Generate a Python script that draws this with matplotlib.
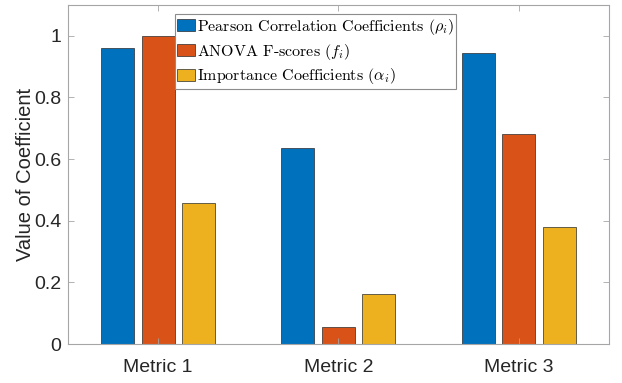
import numpy as np
import matplotlib.pyplot as plt

metrics = ['Metric 1', 'Metric 2', 'Metric 3']
pearson = [0.961, 0.636, 0.945]
anova = [1.0, 0.055, 0.682]
importance = [0.458, 0.162, 0.380]

labels = [r'Pearson Correlation Coefficients ($\rho_i$)',
          r'ANOVA F-scores ($f_i$)',
          r'Importance Coefficients ($\alpha_i$)']
colors = ['#0072BD', '#D95319', '#EDB120']

plt.rcParams['mathtext.fontset'] = 'cm'
plt.rcParams['axes.unicode_minus'] = False

fig = plt.figure(figsize=(6.22, 3.83), dpi=100)
ax = fig.add_axes([0.1093, 0.1018, 0.8697, 0.8852])

x = np.arange(1, len(metrics) + 1)
offset = 0.2244
width = 0.183
for i, vals in enumerate([pearson, anova, importance]):
    ax.bar(x + (i - 1) * offset, vals, width, color=colors[i],
           edgecolor='#2b2b2b', linewidth=0.5, label=labels[i])

ax.set_xlim(0.5, 3.5)
ax.set_ylim(0, 1.1)
ax.set_xticks(x)
ax.set_xticklabels(metrics)
ax.set_yticks([0, 0.2, 0.4, 0.6, 0.8, 1.0])
ax.set_yticklabels(['0', '0.2', '0.4', '0.6', '0.8', '1'])

for lab in ax.get_xticklabels() + ax.get_yticklabels():
    lab.set_fontfamily('Liberation Sans')
    lab.set_fontsize(14)
    lab.set_color('#262626')

ax.set_ylabel('Value of Coefficient', fontsize=14.5, family='Liberation Sans',
              color='#262626', labelpad=-1)

for sp in ax.spines.values():
    sp.set_color('#a6a6a6')
    sp.set_linewidth(0.8)
ax.tick_params(direction='in', length=4, width=0.6, color='#a6a6a6',
               top=True, right=True, pad=5)
ax.tick_params(axis='x', pad=11)

leg = ax.legend(loc='upper left', bbox_to_anchor=(0.198, 0.972),
                prop={'family': 'cmr10', 'size': 11.5},
                handlelength=1.1, handleheight=0.75, handletextpad=0.1,
                borderpad=0.15, labelspacing=0.3, borderaxespad=0,
                fancybox=False, framealpha=1)
leg.get_frame().set_edgecolor('#8c8c8c')
leg.get_frame().set_linewidth(0.8)

fig.savefig('out.png', dpi=100)
